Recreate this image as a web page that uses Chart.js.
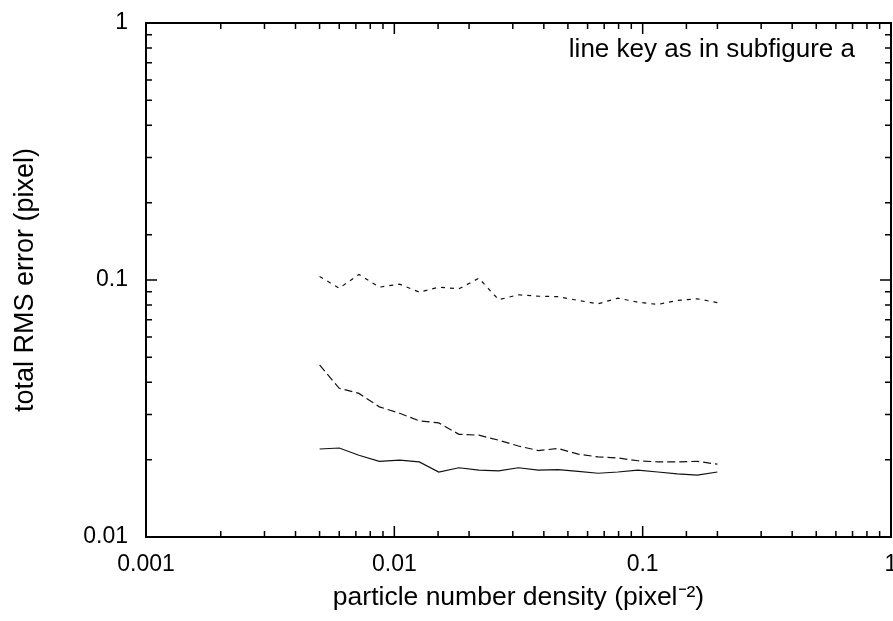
<!DOCTYPE html>
<html>
<head>
<meta charset="utf-8">
<script src="https://cdn.jsdelivr.net/npm/chart.js@4.4.1/dist/chart.umd.min.js"></script>
<style>
    html, body { margin: 0; padding: 0; background: #fff; }
    canvas { display: block; }
</style>
</head>
<body>
<canvas id="rmsChart" width="893" height="621"></canvas>
<script>
// particle number density (pixel^-2)
const densities = [0.005, 0.006, 0.0072, 0.0087, 0.0105, 0.0126, 0.0151, 0.0182, 0.0219, 0.0263,
    0.0316, 0.038, 0.0457, 0.055, 0.0661, 0.0795, 0.0956, 0.115, 0.138, 0.166, 0.2];

// total RMS error (pixel), one array per line style
const solidErr = [0.0220, 0.0222, 0.0208, 0.0197, 0.0199, 0.0196, 0.0179, 0.0186, 0.0182, 0.0181,
    0.0186, 0.0182, 0.0183, 0.0180, 0.0177, 0.0179, 0.0182, 0.0179, 0.0176, 0.0174, 0.0179];
const dashedErr = [0.0467, 0.0379, 0.0362, 0.0321, 0.0303, 0.0283, 0.0278, 0.0251, 0.0249, 0.0238,
    0.0226, 0.0217, 0.0221, 0.0210, 0.0205, 0.0203, 0.0198, 0.0196, 0.0196, 0.0197, 0.0192];
const dottedErr = [0.1032, 0.0929, 0.1051, 0.0938, 0.0963, 0.0897, 0.0938, 0.0924, 0.1016, 0.0838,
    0.0876, 0.0865, 0.0861, 0.0833, 0.0808, 0.0850, 0.0820, 0.0803, 0.0833, 0.0845, 0.0816];

const xTitle = 'particle number density (pixel\u207B\u00B2)';
const yTitle = 'total RMS error (pixel)';
const noteText = 'line key as in subfigure a';

const fontFamily = '"Liberation Sans", Arial, Helvetica, sans-serif';

function isDecade(v) {
    const l = Math.log10(v);
    return Math.abs(l - Math.round(l)) < 1e-6;
}

function decadeLabel(v) {
    return isDecade(v) ? String(Number(v.toPrecision(3))) : '';
}

function toPoints(ys) {
    return densities.map(function (x, i) {
        return { x: x, y: ys[i] };
    });
}

// gnuplot style frame with inward ticks on all four sides
const frameTicks = {
    id: 'frameTicks',
    afterDatasetsDraw(chart) {
        const { ctx, chartArea: a, scales } = chart;
        const x = scales.x, y = scales.y;
        ctx.save();
        ctx.strokeStyle = '#000';
        ctx.lineWidth = 1.5;
        ctx.beginPath();
        x.ticks.forEach(function (t) {
            const px = x.getPixelForValue(t.value);
            const len = isDecade(t.value) ? 11 : 6;
            ctx.moveTo(px, a.bottom); ctx.lineTo(px, a.bottom - len);
            ctx.moveTo(px, a.top); ctx.lineTo(px, a.top + len);
        });
        y.ticks.forEach(function (t) {
            const py = y.getPixelForValue(t.value);
            const len = isDecade(t.value) ? 11 : 6;
            ctx.moveTo(a.left, py); ctx.lineTo(a.left + len, py);
            ctx.moveTo(a.right, py); ctx.lineTo(a.right - len, py);
        });
        ctx.stroke();
        ctx.lineWidth = 2;
        ctx.strokeRect(a.left, a.top, a.right - a.left, a.bottom - a.top);

        ctx.fillStyle = '#000';
        ctx.font = '26px ' + fontFamily;
        ctx.textAlign = 'right';
        ctx.textBaseline = 'middle';
        ctx.fillText(noteText, a.right - 36, a.top + 27);
        ctx.restore();
    }
};

const lineStyle = {
    borderColor: '#111',
    borderWidth: 1.2,
    pointRadius: 0,
    fill: false,
    tension: 0
};

new Chart(document.getElementById('rmsChart'), {
    type: 'line',
    data: {
        datasets: [
            Object.assign({ label: 'solid', data: toPoints(solidErr) }, lineStyle),
            Object.assign({ label: 'dashed', data: toPoints(dashedErr), borderDash: [8, 4] }, lineStyle),
            Object.assign({ label: 'dotted', data: toPoints(dottedErr), borderDash: [4, 5] }, lineStyle)
        ]
    },
    options: {
        responsive: false,
        animation: false,
        devicePixelRatio: 1,
        layout: { padding: { top: 23, right: 2, left: 0, bottom: 0 } },
        plugins: {
            legend: { display: false },
            tooltip: { enabled: false }
        },
        scales: {
            x: {
                type: 'logarithmic',
                min: 0.001,
                max: 1,
                grid: { display: false, drawTicks: false },
                border: { display: false },
                ticks: {
                    autoSkip: false,
                    maxRotation: 0,
                    padding: 14,
                    color: '#000',
                    font: { family: fontFamily, size: 23 },
                    callback: decadeLabel
                },
                title: {
                    display: true,
                    text: xTitle,
                    color: '#000',
                    font: { family: fontFamily, size: 26.5 },
                    padding: { top: 0, bottom: 7 }
                },
                afterFit: function (scale) {
                    scale.height = 84;
                    scale.paddingLeft = 0;
                    scale.paddingRight = 0;
                }
            },
            y: {
                type: 'logarithmic',
                min: 0.01,
                max: 1,
                grid: { display: false, drawTicks: false },
                border: { display: false },
                ticks: {
                    autoSkip: false,
                    padding: 18,
                    color: '#000',
                    font: { family: fontFamily, size: 23 },
                    callback: decadeLabel
                },
                title: {
                    display: true,
                    text: yTitle,
                    color: '#000',
                    font: { family: fontFamily, size: 27 },
                    padding: { top: 9, bottom: 0 }
                },
                afterFit: function (scale) {
                    scale.width = 146;
                    scale.paddingTop = 0;
                    scale.paddingBottom = 0;
                }
            }
        }
    },
    plugins: [frameTicks]
});
</script>
</body>
</html>
